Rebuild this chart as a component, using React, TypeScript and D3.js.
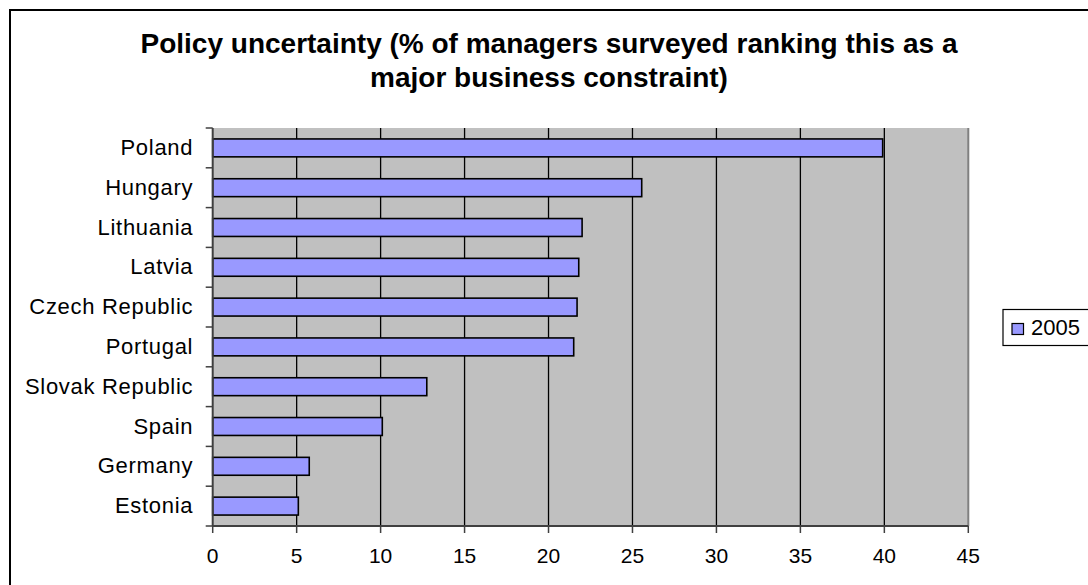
import React from "react";
import * as d3 from "d3";

const categories = ["Poland", "Hungary", "Lithuania", "Latvia", "Czech Republic", "Portugal", "Slovak Republic", "Spain", "Germany", "Estonia"];
const values2005 = [39.9, 25.55, 22.0, 21.8, 21.7, 21.5, 12.75, 10.1, 5.75, 5.1];
const xTicks = [0, 5, 10, 15, 20, 25, 30, 35, 40, 45];
const seriesName = "2005";
const titleLines = ["Policy uncertainty (% of managers surveyed ranking this as a", "major business constraint)"];

const W = 1088, H = 585;
const plot = { left: 212.7, right: 968.3, top: 128, bottom: 526 };
const FONT = "Arial, 'Liberation Sans', Helvetica, sans-serif";

export default function App() {
  const x = d3.scaleLinear().domain([0, 45]).range([plot.left, plot.right]);
  const y = d3.scaleBand().domain(categories).range([plot.top, plot.bottom]).paddingInner(0.55).paddingOuter(0.275);
  const band = d3.scaleBand().domain(categories).range([plot.top, plot.bottom]);
  const bw = y.bandwidth();
  return (
    <svg width={W} height={H} style={{ position: "absolute", left: 0, top: 0, display: "block" }} fontFamily={FONT}>
      <rect x={0} y={0} width={W} height={H} fill="#fff" />
      <rect x={10} y={10} width={W + 20} height={H + 20} fill="#fff" stroke="#000" strokeWidth={2} />
      {titleLines.map((t, i) => (
        <text key={i} x={549} y={53 + i * 33.5} textAnchor="middle" fontWeight="bold" fontSize={28} fill="#000">{t}</text>
      ))}
      <rect x={plot.left} y={plot.top} width={plot.right - plot.left} height={plot.bottom - plot.top} fill="#C0C0C0" />
      {xTicks.filter(t => t > 0 && t < 45).map(t => (
        <line key={t} x1={x(t)} x2={x(t)} y1={plot.top} y2={plot.bottom} stroke="#000" strokeWidth={1.3} />
      ))}
      <line x1={plot.right} x2={plot.right} y1={plot.top} y2={plot.bottom} stroke="#808080" strokeWidth={2} />
      {categories.map((c, i) => (
        <rect key={c} x={x(0)} y={y(c)} width={x(values2005[i]) - x(0)} height={bw} fill="#9999FF" stroke="#000" strokeWidth={1.6} />
      ))}
      {/* y axis */}
      <line x1={plot.left} x2={plot.left} y1={plot.top} y2={plot.bottom} stroke="#404040" strokeWidth={2} />
      {categories.map(c => (
        <line key={"t" + c} x1={plot.left - 7} x2={plot.left} y1={band(c)} y2={band(c)} stroke="#404040" strokeWidth={1.5} />
      ))}
      <line x1={plot.left - 7} x2={plot.left} y1={plot.bottom} y2={plot.bottom} stroke="#404040" strokeWidth={1.5} />
      {categories.map(c => (
        <text key={"l" + c} x={plot.left - 19.5} y={band(c)! + band.bandwidth() / 2 + 7} textAnchor="end" fontSize={22} letterSpacing={0.7} fill="#000">{c}</text>
      ))}
      {/* x axis */}
      <line x1={plot.left} x2={plot.right} y1={plot.bottom} y2={plot.bottom} stroke="#404040" strokeWidth={2} />
      {xTicks.map(t => (
        <g key={"x" + t}>
          <line x1={x(t)} x2={x(t)} y1={plot.bottom} y2={plot.bottom + 7} stroke="#404040" strokeWidth={1.5} />
          <text x={x(t)} y={563} textAnchor="middle" fontSize={21} fill="#000">{t}</text>
        </g>
      ))}
      {/* legend */}
      <rect x={1003} y={309.5} width={100} height={36} fill="#fff" stroke="#000" strokeWidth={1.2} />
      <rect x={1012} y={323.5} width={11.5} height={11} fill="#9999FF" stroke="#000" strokeWidth={1.2} />
      <text x={1031} y={334.5} fontSize={22} fill="#000">{seriesName}</text>
    </svg>
  );
}
